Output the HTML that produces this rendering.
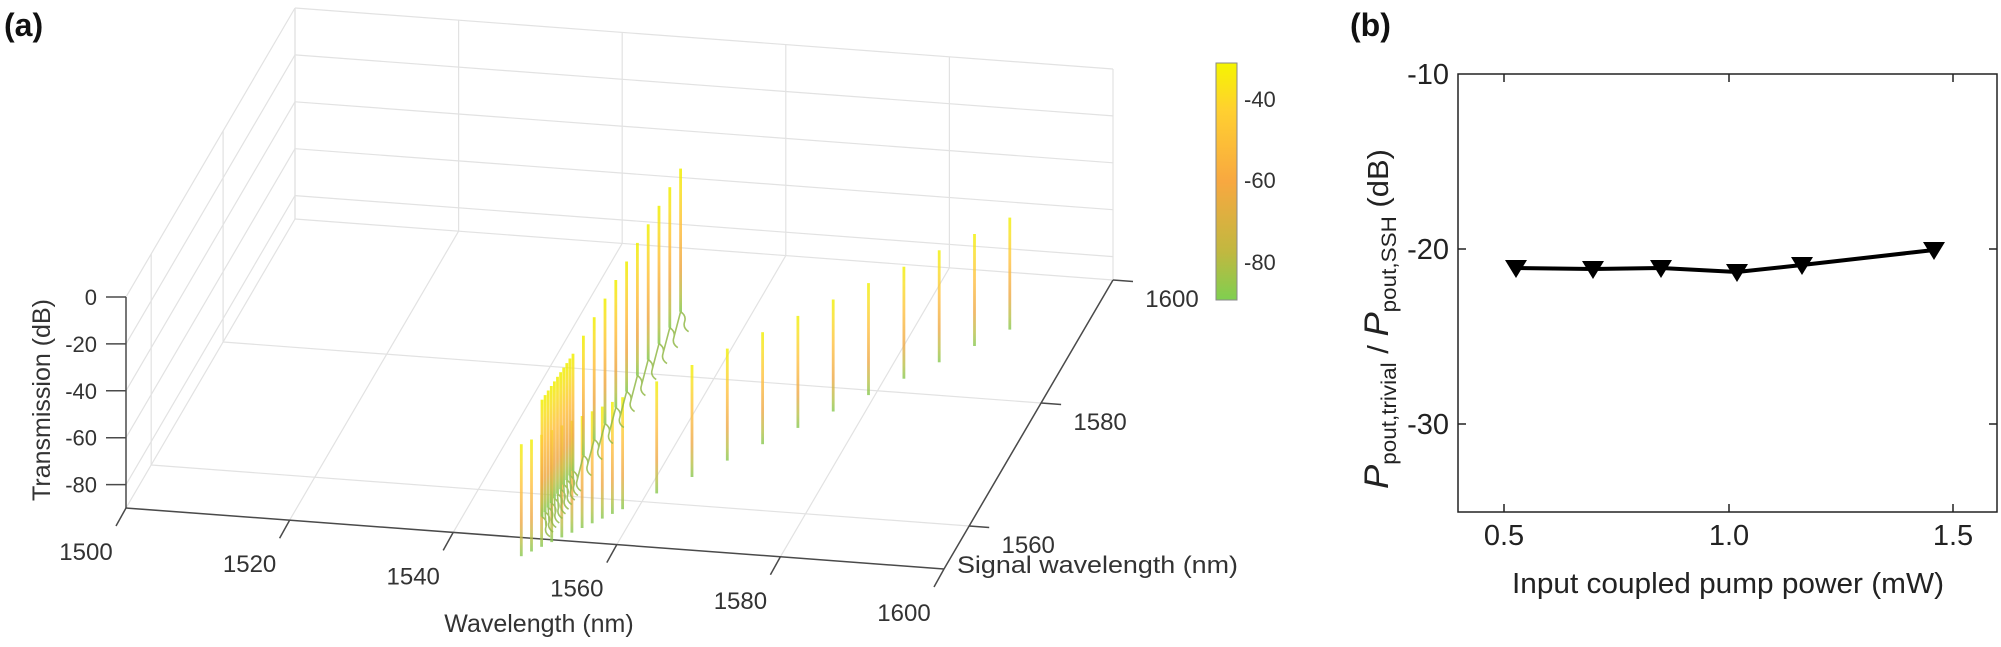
<!DOCTYPE html>
<html><head><meta charset="utf-8"><style>
html,body{margin:0;padding:0;background:#fff;}
svg{display:block;font-family:"Liberation Sans",Arial,sans-serif;}
</style></head><body>
<svg id="s" width="2001" height="647" viewBox="0 0 2001 647" xmlns="http://www.w3.org/2000/svg">
<defs>
<linearGradient id="g" x1="0" y1="1" x2="0" y2="0">
<stop offset="0" stop-color="#86c850"/><stop offset="0.12" stop-color="#b8c048"/>
<stop offset="0.3" stop-color="#eea845"/><stop offset="0.6" stop-color="#ffc040"/>
<stop offset="0.85" stop-color="#f8e020"/><stop offset="1" stop-color="#f0f000"/>
</linearGradient>
<linearGradient id="cb" x1="0" y1="1" x2="0" y2="0">
<stop offset="0" stop-color="#7fcf50"/><stop offset="0.2" stop-color="#c0b840"/>
<stop offset="0.5" stop-color="#f8a840"/><stop offset="0.8" stop-color="#ffd030"/>
<stop offset="1" stop-color="#f5f500"/>
</linearGradient>
</defs>
<g id="grid" stroke="#e2e2e2" stroke-width="1.2" fill="none"></g>
<g id="axes" stroke="#4a4a4a" stroke-width="1.5" fill="none"></g>
<g id="data"></g>
<g id="txt" fill="#333" font-size="23"></g>

<rect x="1216" y="63" width="21" height="237" fill="url(#cb)" stroke="#8a8a8a" stroke-width="1"/>
<g fill="#333" font-size="22">
<text x="1244" y="107">-40</text><text x="1244" y="188">-60</text><text x="1244" y="270">-80</text>
</g>
<text x="4" y="36" font-size="32" font-weight="bold" fill="#111">(a)</text>
<text x="1350" y="36" font-size="32" font-weight="bold" fill="#111">(b)</text>

<g stroke="#222" stroke-width="1.5" fill="none">
<rect x="1458" y="74" width="539" height="438"/>
<path d="M1458,249h8M1458,424h8M1997,249h-8M1997,424h-8M1504,512v-8M1729,512v-8M1953,512v-8M1504,74v8M1729,74v8M1953,74v8"/>
</g>
<g fill="#222" font-size="29" text-anchor="end">
<text x="1449" y="84">-10</text><text x="1449" y="259">-20</text><text x="1449" y="434">-30</text>
</g>
<g fill="#222" font-size="29" text-anchor="middle">
<text x="1504" y="545">0.5</text><text x="1729" y="545">1.0</text><text x="1953" y="545">1.5</text>
<text x="1728" y="593" textLength="432" lengthAdjust="spacingAndGlyphs">Input coupled pump power (mW)</text>
</g>
<text transform="translate(1388,319) rotate(-90)" text-anchor="middle" fill="#222" font-size="29" textLength="340" lengthAdjust="spacingAndGlyphs"><tspan font-style="italic" font-size="34">P</tspan><tspan font-size="21" dy="8">pout,trivial</tspan><tspan dy="-8"> / </tspan><tspan font-style="italic" font-size="34">P</tspan><tspan font-size="21" dy="8">pout,SSH</tspan><tspan dy="-8"> (dB)</tspan></text>
<polyline points="1516,268 1593,269 1661,268 1737,272 1802,265 1934,250" fill="none" stroke="#000" stroke-width="4"/>
<g id="tri" fill="#000"></g>
</svg>
<script>
var NS="http://www.w3.org/2000/svg";
function el(p,t,a,txt){var e=document.createElementNS(NS,t);for(var k in a)e.setAttribute(k,a[k]);if(txt!==undefined)e.textContent=txt;document.getElementById(p).appendChild(e);return e;}
var O=[126,508],X=[818,61],Y=[169,-289],Zs=2.344;
function P(x,y,z){var a=(x-1500)/100,b=(y-1553)/47;return [O[0]+a*X[0]+b*Y[0],O[1]+a*X[1]+b*Y[1]-(z+90)*Zs];}
function L(g,p,q){el(g,"line",{x1:p[0].toFixed(1),y1:p[1].toFixed(1),x2:q[0].toFixed(1),y2:q[1].toFixed(1)});}
for(var x=1500;x<=1600;x+=20){L("grid",P(x,1553,-90),P(x,1600,-90));L("grid",P(x,1600,-90),P(x,1600,0));}
[1560,1580,1600].forEach(function(y){L("grid",P(1500,y,-90),P(1600,y,-90));L("grid",P(1500,y,-90),P(1500,y,0));});
for(var z=-80;z<=0;z+=20){L("grid",P(1500,1553,z),P(1500,1600,z));L("grid",P(1500,1600,z),P(1600,1600,z));}
L("axes",P(1500,1553,-90),P(1500,1553,0));
L("axes",P(1500,1553,-90),P(1600,1553,-90));
L("axes",P(1600,1553,-90),P(1600,1600,-90));
for(var z=-80;z<=0;z+=20){var p=P(1500,1553,z);L("axes",[p[0]-20,p[1]],p);
 el("txt","text",{x:97,y:(p[1]+8).toFixed(1),"text-anchor":"end","font-size":"22"},""+z);}
for(var x=1500;x<=1600;x+=20){var p=P(x,1553,-90);L("axes",p,[p[0]-10,p[1]+18]);
 el("txt","text",{x:(p[0]-40).toFixed(1),y:(p[1]+52).toFixed(1),"text-anchor":"middle","font-size":"24"},""+x);}
[1560,1580,1600].forEach(function(y){var p=P(1600,y,-90);L("axes",p,[p[0]+20,p[1]+1.5]);
 el("txt","text",{x:(p[0]+59).toFixed(1),y:(p[1]+27).toFixed(1),"text-anchor":"middle","font-size":"24"},""+y);});
el("txt","text",{x:539,y:632,"text-anchor":"middle","font-size":"25"},"Wavelength (nm)");
el("txt","text",{x:957,y:573,"font-size":"24",textLength:"281",lengthAdjust:"spacingAndGlyphs"},"Signal wavelength (nm)");
el("txt","text",{transform:"translate(50,400) rotate(-90)","text-anchor":"middle","font-size":"25"},"Transmission (dB)");
var S=[];for(var s=1550.5;s<=1559.1;s+=0.86)S.push(s);for(var s=1562;s<=1589;s+=3)S.push(s);
function stick(x,b,h,op){el("data","rect",{x:(x-1.4).toFixed(1),y:(b-h).toFixed(1),width:"2.8",height:h.toFixed(1),fill:"url(#g)",opacity:op});}
S.concat([1592]).forEach(function(s){var x=692+11.77*(s-1565),b=477-5.46*(s-1565);stick(x,b,112,0.8);});
var d="";var pts=[];
S.forEach(function(s){var x=551+3.6*(s-1553);var b=530-1.479*(x-533);pts.push([x,b]);});
pts.forEach(function(p,i){d+="M"+p[0].toFixed(1)+","+p[1].toFixed(1)+" q6,4 4,10 q-2,6 4,10 ";
 if(i>0){var q=pts[i-1];d+="M"+(q[0]+4).toFixed(1)+","+(q[1]+10).toFixed(1)+" L"+p[0].toFixed(1)+","+p[1].toFixed(1)+" ";}});
el("data","path",{d:d,fill:"none",stroke:"#92b848","stroke-width":"1.6",opacity:"0.85"});
pts.forEach(function(p){var x=p[0];var h=x<572?117:117+(x-572)*0.24;stick(x,p[1],h,0.85);});
[[1516,268],[1593,269],[1661,268],[1737,272],[1802,265],[1934,250]].forEach(function(q){
 el("tri","path",{d:"M"+(q[0]-11)+","+(q[1]-8)+"h22l-11,18z"});});
</script>
</body></html>
